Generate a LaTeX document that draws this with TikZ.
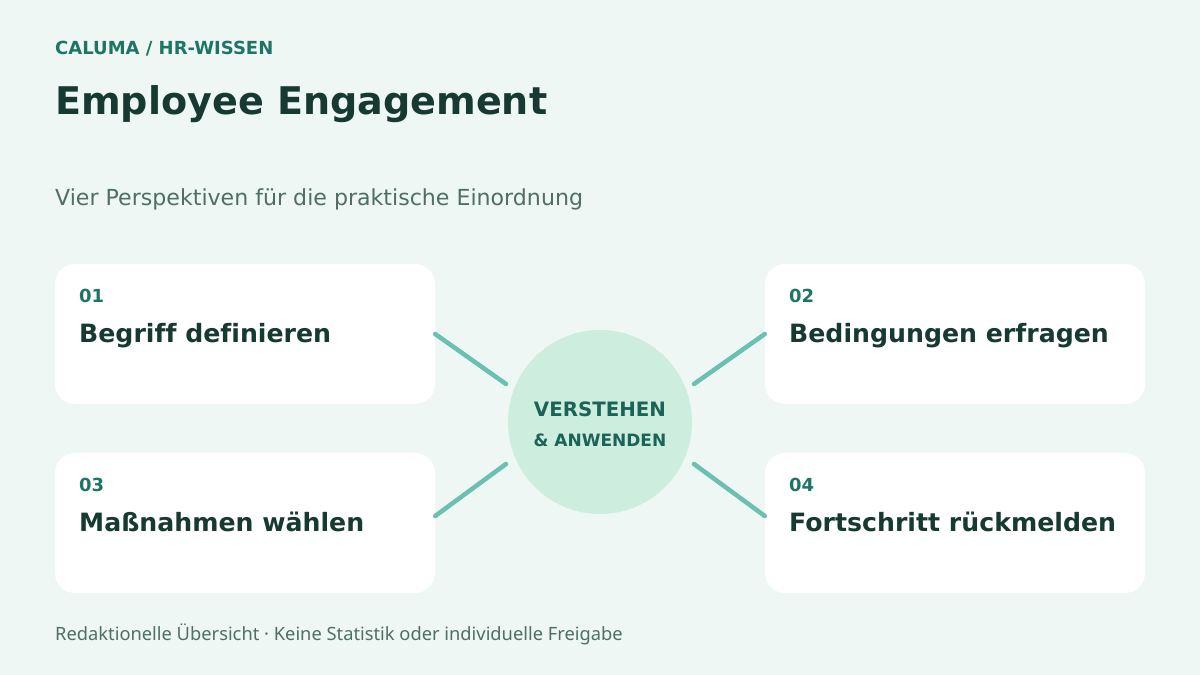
\documentclass[tikz,border=0pt]{standalone}
\usepackage{fontspec}
\setmainfont{DejaVu Sans}[Ligatures=NoCommon]
\newfontfamily\footfont{Noto Sans}
\definecolor{bg}{HTML}{EEF7F3}
\definecolor{teal}{HTML}{1E7566}
\definecolor{dark}{HTML}{163A32}
\definecolor{sub}{HTML}{4E6E66}
\definecolor{circ}{HTML}{CDEDDF}
\definecolor{circtext}{HTML}{1A6356}
\definecolor{conn}{HTML}{6CC0B1}
\tikzset{
  card/.style={fill=white, rounded corners=20pt, minimum width=380pt, minimum height=140pt, inner sep=0pt},
  num/.style={anchor=base west, inner sep=0pt, text=teal, font=\bfseries\fontsize{18}{21}\selectfont},
  ctitle/.style={anchor=base west, inner sep=0pt, text=dark, font=\bfseries\fontsize{25.2}{30}\selectfont},
  link/.style={draw=conn, line width=4.5pt, line cap=round},
}
\begin{document}
\begin{tikzpicture}[x=1pt,y=-1pt]
\useasboundingbox (0,0) rectangle (1200,675);
\fill[bg] (0,0) rectangle (1200,675);
\node[anchor=base west, inner sep=0pt, text=teal, font=\bfseries\fontsize{18}{21}\selectfont] (brand) at (55,54) {CALUMA / HR-WISSEN};
\node[anchor=base west, inner sep=0pt, text=dark, font=\bfseries\fontsize{38.1}{44}\selectfont] (title) at (55,114) {Employee Engagement};
\node[anchor=base west, inner sep=0pt, text=sub, font=\fontsize{22.1}{26}\selectfont] (subtitle) at (55,205) {Vier Perspektiven für die praktische Einordnung};

\node[card] (b1) at (245,334) {};
\node[card] (b2) at (955,334) {};
\node[card] (b3) at (245,523) {};
\node[card] (b4) at (955,523) {};

\node[num] (n1) at (79,302) {01};
\node[ctitle] (t1) at (79,342) {Begriff definieren};
\node[num] (n2) at (789,302) {02};
\node[ctitle] (t2) at (789,342) {Bedingungen erfragen};
\node[num] (n3) at (79,491) {03};
\node[ctitle] (t3) at (79,531) {Maßnahmen wählen};
\node[num] (n4) at (789,491) {04};
\node[ctitle] (t4) at (789,531) {Fortschritt rückmelden};

\node[circle, fill=circ, minimum size=184pt, inner sep=0pt] (c) at (600,422) {};
\node[anchor=base, inner sep=0pt, text=circtext, font=\bfseries\fontsize{19.8}{23}\selectfont] (c1) at (600,416) {VERSTEHEN};
\node[anchor=base, inner sep=0pt, text=circtext, font=\bfseries\fontsize{17}{20}\selectfont] (c2) at (600,446) {\& ANWENDEN};

\coordinate (e1) at (506,384);
\coordinate (e2) at (694,384);
\coordinate (e3) at (506,464);
\coordinate (e4) at (694,464);
\draw[link] (b1.east) -- (e1);
\draw[link] (b2.west) -- (e2);
\draw[link] ([yshift=7pt]b3.east) -- (e3);
\draw[link] ([yshift=7pt]b4.west) -- (e4);

\node[anchor=base west, inner sep=0pt, text=sub, font=\footfont\fontsize{18.3}{22}\selectfont] (foot) at (55,640) {Redaktionelle Übersicht · Keine Statistik oder individuelle Freigabe};
\end{tikzpicture}
\end{document}
